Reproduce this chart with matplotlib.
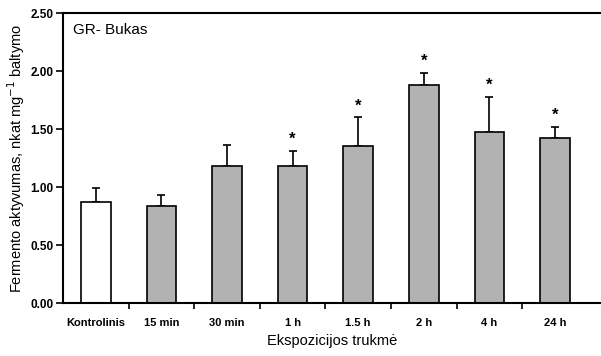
import matplotlib
matplotlib.use('Agg')
from matplotlib import pyplot as plt
from numpy import arange

plt.rcParams['font.family'] = ['Liberation Sans', 'DejaVu Sans']

categories = ['Kontrolinis', '15 min', '30 min', '1 h', '1.5 h', '2 h', '4 h', '24 h']
values = [0.87, 0.84, 1.18, 1.18, 1.35, 1.88, 1.47, 1.42]
errors = [0.12, 0.09, 0.18, 0.13, 0.25, 0.10, 0.31, 0.10]
significant = [False, False, False, True, True, True, True, True]

x = arange(len(categories))
colors = ['white'] + ['#b2b2b2'] * (len(categories) - 1)

fig = plt.figure(figsize=(6.01, 3.56), dpi=100)
axs = fig.add_axes([63/601, 53/356, 1 - 63/601, 290/356])

axs.bar(x, values, width=0.45, color=colors, edgecolor='black', linewidth=1.2, zorder=2)
axs.errorbar(x, values, yerr=[[0]*len(x), errors], fmt='none', ecolor='black',
             elinewidth=1.2, capsize=3, capthick=1.2, zorder=1)

# звёздочки над значимыми столбцами
for xi, v, e, s in zip(x, values, errors, significant):
    if s:
        axs.text(xi, v + e + 0.1, '*', ha='center', va='center', fontsize=12, fontweight='bold')

axs.set_xlim(-0.5, 7.7)
axs.set_ylim(0, 2.5)
axs.set_yticks([0, 0.5, 1.0, 1.5, 2.0, 2.5])
axs.set_yticklabels(['0.00', '0.50', '1.00', '1.50', '2.00', '2.50'], fontsize=8.5, fontweight='bold')
axs.set_xticks(x)
axs.set_xticklabels(categories, fontsize=8, fontweight='bold')
axs.set_xticks(arange(0.5, 7.5, 1), minor=True)
axs.tick_params(axis='x', which='major', length=0, pad=11)
axs.tick_params(axis='x', which='minor', length=4, width=1.2)
axs.tick_params(axis='y', length=5, width=1.2, pad=2)

axs.spines['right'].set_visible(False)
for side in ['left', 'bottom', 'top']:
    axs.spines[side].set_linewidth(1.5)

axs.set_xlabel('Ekspozicijos trukmė', fontsize=10.5, labelpad=4)
axs.set_ylabel('Fermento aktyvumas, nkat mg$^{-1}$ baltymo', fontsize=10.5, labelpad=2)
axs.text(0.018, 0.94, 'GR- Bukas', transform=axs.transAxes, fontsize=11, va='center')

fig.savefig('out.png', dpi=100)
